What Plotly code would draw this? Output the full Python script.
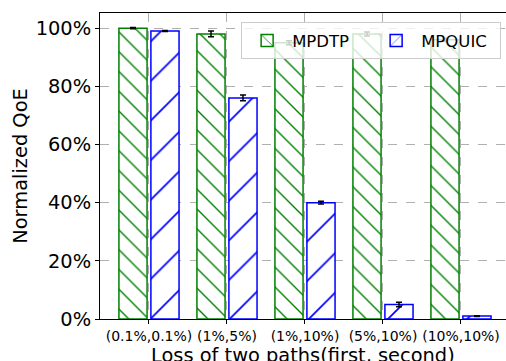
import plotly.graph_objects as go

categories = ["(0.1%,0.1%)", "(1%,5%)", "(1%,10%)", "(5%,10%)", "(10%,10%)"]
mpdtp = [100, 98, 95, 98, 96]
mpdtp_err = [0.2, 1.0, 0.7, 0.7, 0.5]
mpquic = [99, 76, 40, 5, 1]
mpquic_err = [0.2, 1.0, 0.5, 0.8, 0.1]
y_ticks = [0, 20, 40, 60, 80, 100]

fig = go.Figure()
fig.add_trace(go.Bar(
    x=categories, y=mpdtp, name="MPDTP",
    marker=dict(color="white", line=dict(color="#008000", width=1.5),
                pattern=dict(shape="\\", size=14, solidity=0.1, fgopacity=1,
                             fgcolor="#008000", bgcolor="white", fillmode="overlay")),
    error_y=dict(type="data", array=mpdtp_err, color="black", thickness=1.5, width=3),
))
fig.add_trace(go.Bar(
    x=categories, y=mpquic, name="MPQUIC",
    marker=dict(color="white", line=dict(color="#0000ff", width=1.5),
                pattern=dict(shape="/", size=28, solidity=0.06, fgopacity=1,
                             fgcolor="#0000ff", bgcolor="white", fillmode="overlay")),
    error_y=dict(type="data", array=mpquic_err, color="black", thickness=1.5, width=3),
))

font = "DejaVu Sans"
fig.update_layout(
    width=506, height=361,
    margin=dict(l=100, r=0, t=13, b=42),
    paper_bgcolor="white", plot_bgcolor="white",
    barmode="group", bargap=0.18, bargroupgap=0.12,
    font=dict(family=font, color="black"),
    legend=dict(orientation="h", x=0.988, xanchor="right", y=0.97, yanchor="top",
                bgcolor="rgba(255,255,255,0.8)", bordercolor="#cccccc", borderwidth=1,
                font=dict(size=16.5, family=font), itemwidth=40, entrywidth=74),
    xaxis=dict(
        range=[-0.628, 4.577], automargin=False,
        showgrid=True, gridcolor="#b0b0b0", griddash="dash", gridwidth=1,
        showline=True, linecolor="black", linewidth=1, mirror=True,
        ticks="outside", ticklen=4, tickcolor="black",
        tickfont=dict(size=14, family=font),
    ),
    yaxis=dict(
        range=[0, 105.2], automargin=False,
        tickvals=y_ticks, ticktext=[f"{v}%" for v in y_ticks],
        showgrid=True, gridcolor="#b0b0b0", griddash="dash", gridwidth=1,
        showline=True, linecolor="black", linewidth=1,
        ticks="outside", ticklen=4, tickcolor="black",
        tickfont=dict(size=19.4, family=font),
        zeroline=False,
        title=dict(text="Normalized QoE", font=dict(size=19.4, family=font), standoff=2),
    ),
    annotations=[dict(
        text="Loss of two paths(first, second)", xref="paper", yref="paper",
        x=0.5, y=0, xanchor="center", yanchor="top", yshift=-23, showarrow=False,
        font=dict(size=19.4, family=font, color="black"),
    )],
)

fig.write_html("out.html", config={"displayModeBar": False},
               post_script="document.body.style.margin='0';")
